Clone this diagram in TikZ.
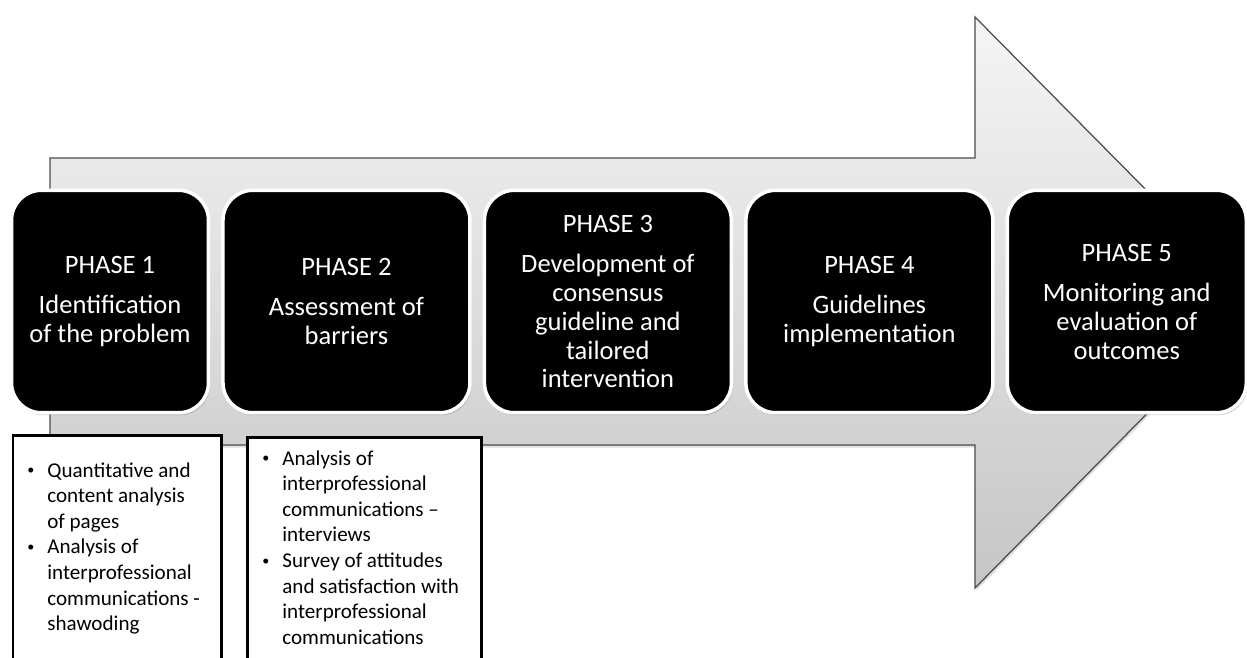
\documentclass[tikz,border=0pt]{standalone}
\usepackage{fontspec}
\setmainfont{Carlito}
\usetikzlibrary{positioning,shadows}
\definecolor{arrowline}{RGB}{75,75,75}
\tikzstyle{phase} = [rectangle, rounded corners=0.6cm, minimum width=4.94cm, minimum height=4.45cm, fill=black, draw=white, line width=0.07cm, text=white, align=center, font=\fontsize{15.1pt}{16.5pt}\selectfont, drop shadow={opacity=0.35, shadow xshift=0.03cm, shadow yshift=-0.05cm}]
\tikzstyle{notebox} = [rectangle, draw=black, line width=0.05cm, fill=white, anchor=north west, minimum height=5cm]
\tikzstyle{notes} = [anchor=north west, inner sep=0pt, align=left, font=\fontsize{12pt}{14.6pt}\selectfont]
\newcommand{\bul}{\makebox[0.4cm][l]{\raisebox{1.3pt}{\fontsize{8pt}{8pt}\selectfont\textbullet}}}
\newcommand{\ind}{\hspace*{0.4cm}}

\begin{document}
\begin{tikzpicture}[x=0.02cm, y=-0.02cm, node distance=0.22cm]
\useasboundingbox (0,0) rectangle (1247,657);
% Big arrow behind the phases
\shade[top color=gray!8, bottom color=gray!45, draw=arrowline, line width=0.025cm,
  drop shadow={opacity=0.25, shadow xshift=0.03cm, shadow yshift=-0.05cm}]
  (50,158) -- (975,158) -- (975,17) -- (1257,302) -- (975,588) -- (975,445) -- (50,445) -- cycle;

% Phases
\node[phase, minimum width=3.94cm] (p1) at (110,301.5) {PHASE 1\\[0.22cm]Identification\\of the problem};
\node[phase, right=of p1] (p2) {PHASE 2\\[0.22cm]Assessment of\\barriers};
\node[phase, right=of p2] (p3) {PHASE 3\\[0.22cm]Development of\\consensus\\guideline and\\tailored\\intervention};
\node[phase, right=of p3] (p4) {PHASE 4\\[0.22cm]Guidelines\\implementation};
\node[phase, minimum width=4.78cm, right=of p4] (p5) {PHASE 5\\[0.22cm]Monitoring and\\evaluation of\\outcomes};

% Notes under phases 1 and 2
\node[notebox, minimum width=4.17cm] (b1) at (12,434) {};
\node[notebox, minimum width=4.69cm] (b2) at (246,436) {};
\node[notes] (n1) at (27,462) {\bul Quantitative and\\\ind content analysis\\\ind of pages\\\bul Analysis of\\\ind interprofessional\\\ind communications -\\\ind shawoding};
\node[notes] (n2) at (262,450) {\bul Analysis of\\\ind interprofessional\\\ind communications --\\\ind interviews\\\bul Survey of attitudes\\\ind and satisfaction with\\\ind interprofessional\\\ind communications};
\end{tikzpicture}
\end{document}
